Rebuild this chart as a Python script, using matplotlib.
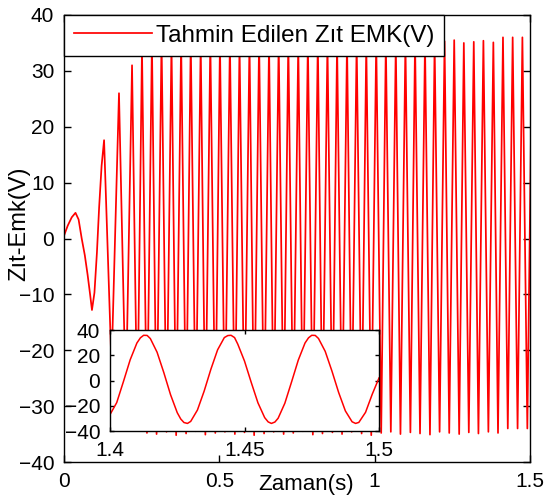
import matplotlib
matplotlib.use('Agg')
import matplotlib.pyplot as plt

plt.rcParams['font.family'] = ['Liberation Sans', 'DejaVu Sans']
plt.rcParams['font.size'] = 15

# start-up part of the estimated back-emf
early_t = [0.0, 0.012, 0.025, 0.037, 0.047, 0.057, 0.067, 0.076, 0.084, 0.090,
           0.098, 0.106, 0.113, 0.121, 0.129, 0.153, 0.177, 0.199, 0.219, 0.236, 0.251]
early_v = [0.5, 2.3, 3.8, 4.6, 3.4, 0.0, -3.0, -6.5, -10.0, -12.8,
           -9.7, -2.5, 5.5, 13.0, 17.6, -23.0, 26.0, -29.5, 31.0, -33.0, 34.0]

# steady part: troughs and peaks of the oscillation
trough_t = [0.267, 0.298, 0.330, 0.361, 0.393, 0.424, 0.455, 0.487, 0.518, 0.550,
            0.581, 0.612, 0.644, 0.675, 0.707, 0.738, 0.769, 0.801, 0.832, 0.864,
            0.895, 0.926, 0.958, 0.989, 1.021, 1.052, 1.083, 1.115, 1.146, 1.178,
            1.209, 1.240, 1.272, 1.303, 1.334, 1.366, 1.397, 1.4285, 1.460, 1.4914]
trough_v = [-34.8, -35.0, -34.6, -35.2, -34.9, -34.5, -35.1, -34.8, -34.6, -35.0,
            -34.7, -35.2, -34.9, -34.6, -35.0, -34.8, -34.5, -35.1, -34.9, -34.7,
            -35.0, -34.6, -34.9, -35.2, -34.8, -34.6, -35.0, -34.7, -34.9, -35.1,
            -34.6, -34.8, -35.0, -34.7, -34.9, -34.6, -34.8, -34.0, -34.0, -34.0]
peak_t = [0.283, 0.314, 0.346, 0.377, 0.408, 0.440, 0.471, 0.502, 0.534, 0.565,
          0.597, 0.628, 0.660, 0.691, 0.722, 0.754, 0.785, 0.817, 0.848, 0.879,
          0.911, 0.942, 0.973, 1.005, 1.036, 1.068, 1.099, 1.130, 1.162, 1.193,
          1.225, 1.256, 1.287, 1.319, 1.350, 1.382, 1.413, 1.4442, 1.4755, 1.507]
peak_v = [35.2, 35.5, 34.9, 35.3, 35.6, 35.0, 35.4, 35.1, 35.5, 34.8,
          35.3, 35.6, 35.0, 35.2, 35.4, 34.9, 35.3, 35.5, 35.1, 35.0,
          35.4, 35.2, 34.9, 35.5, 35.3, 35.0, 35.2, 35.4, 35.1, 34.9,
          35.3, 35.5, 35.0, 35.2, 35.4, 35.1, 36.0, 36.0, 36.0, 36.0]

# zoomed window 1.4 - 1.5 s
zoom_t = [1.4000, 1.4025, 1.4050, 1.4075, 1.4100, 1.4113, 1.4125, 1.4138, 1.4150, 1.4175,
          1.4200, 1.4225, 1.4250, 1.4263, 1.4275, 1.4288, 1.4300, 1.4325, 1.4350, 1.4375,
          1.4400, 1.4425, 1.4438, 1.4450, 1.4463, 1.4475, 1.4500, 1.4525, 1.4550, 1.4575,
          1.4588, 1.4600, 1.4613, 1.4625, 1.4650, 1.4675, 1.4700, 1.4725, 1.4738, 1.4750,
          1.4763, 1.4775, 1.4800, 1.4825, 1.4850, 1.4875, 1.4900, 1.4913, 1.4925, 1.4950,
          1.4975, 1.5000]
zoom_v = [-27.0, -17.5, -0.8, 16.4, 29.7, 33.8, 35.8, 35.7, 33.2, 22.4,
          6.3, -11.2, -25.5, -30.5, -33.3, -34.0, -32.4, -23.4, -8.4, 8.9,
          24.3, 34.0, 35.6, 35.8, 34.0, 28.8, 15.4, -1.5, -17.7, -29.4,
          -32.8, -34.0, -32.9, -29.9, -18.0, -1.1, 16.2, 29.7, 33.8, 35.8,
          35.7, 33.3, 23.1, 7.5, -9.5, -24.1, -32.7, -34.0, -33.2, -25.2,
          -10.8, 2.0]

t = list(early_t)
v = list(early_v)
for i in range(len(trough_t)):
    t += [trough_t[i], peak_t[i]]
    v += [trough_v[i], peak_v[i]]

fig = plt.figure(figsize=(5.44, 4.98), dpi=100)
ax = fig.add_axes([64/544, 36/498, 466/544, 447/498])
ax.plot(t, v, color='red', lw=1.25, label='Tahmin Edilen Zıt EMK(V)')
ax.set_xlim(0, 1.5)
ax.set_ylim(-40, 40)
ax.set_xticks([0, 0.5, 1, 1.5])
ax.set_xticklabels(['0', '0.5', '1', '1.5'])
ax.set_yticks(range(-40, 41, 10))
ax.tick_params(direction='in', length=5, width=1, top=True, right=True)
ax.tick_params(axis='y', pad=7)
ax.tick_params(axis='x', pad=7)
for s in ax.spines.values():
    s.set_linewidth(1)
ax.set_xlabel('Zaman(s)', fontsize=16)
ax.xaxis.set_label_coords(0.52, -0.027)
ax.set_ylabel('Zıt-Emk(V)', fontsize=17)
ax.yaxis.set_label_coords(-0.072, 0.534)
leg = ax.legend(loc='upper left', borderaxespad=0, fancybox=False, framealpha=1,
                edgecolor='black', handlelength=3.2, handletextpad=0.17,
                borderpad=0.4, fontsize=17.5)
leg.get_frame().set_linewidth(1)

# inset with the last 0.1 s
axin = fig.add_axes([110/544, 67/498, 269/544, 101/498])
axin.plot(zoom_t, zoom_v, color='red', lw=1.1)
axin.set_xlim(1.4, 1.5)
axin.set_ylim(-40, 40)
axin.set_xticks([1.4, 1.45, 1.5])
axin.set_xticklabels(['1.4', '1.45', '1.5'])
axin.set_yticks([-40, -20, 0, 20, 40])
axin.tick_params(direction='in', length=3, width=1, top=True, right=True)
axin.tick_params(axis='y', pad=7)
axin.tick_params(axis='x', pad=7)
for s in axin.spines.values():
    s.set_linewidth(1)

plt.savefig('out.png', dpi=100)
